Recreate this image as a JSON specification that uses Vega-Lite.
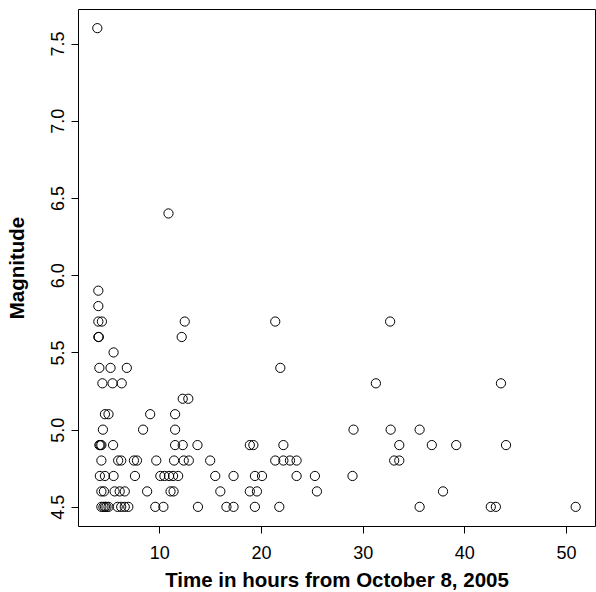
{
  "$schema": "https://vega.github.io/schema/vega-lite/v6.json",
  "width": 517,
  "height": 517,
  "autosize": {"type": "none"},
  "padding": {"left": 78, "top": 9, "right": 1, "bottom": 66},
  "background": "white",
  "config": {
    "view": {"stroke": "black", "strokeWidth": 1},
    "axis": {
      "grid": false,
      "domain": false,
      "tickColor": "black",
      "tickSize": 7,
      "tickWidth": 1,
      "labelColor": "black",
      "labelFont": "Liberation Sans",
      "labelFontSize": 18,
      "titleFont": "Liberation Sans",
      "titleFontSize": 20.5,
      "titleFontWeight": "bold",
      "titleColor": "black"
    }
  },
  "data": {
    "values": [
      {"t": 3.9, "m": 7.6},
      {"t": 10.9, "m": 6.4},
      {"t": 4.0, "m": 5.9},
      {"t": 4.0, "m": 5.8},
      {"t": 4.0, "m": 5.7}, {"t": 4.35, "m": 5.7}, {"t": 12.5, "m": 5.7}, {"t": 21.4, "m": 5.7}, {"t": 32.7, "m": 5.7},
      {"t": 4.0, "m": 5.6}, {"t": 4.05, "m": 5.6}, {"t": 12.2, "m": 5.6},
      {"t": 5.5, "m": 5.5},
      {"t": 4.1, "m": 5.4}, {"t": 5.2, "m": 5.4}, {"t": 6.8, "m": 5.4}, {"t": 21.9, "m": 5.4},
      {"t": 4.4, "m": 5.3}, {"t": 5.4, "m": 5.3}, {"t": 6.3, "m": 5.3}, {"t": 31.3, "m": 5.3}, {"t": 43.6, "m": 5.3},
      {"t": 12.3, "m": 5.2}, {"t": 12.85, "m": 5.2},
      {"t": 4.65, "m": 5.1}, {"t": 5.0, "m": 5.1}, {"t": 9.1, "m": 5.1}, {"t": 11.55, "m": 5.1},
      {"t": 4.45, "m": 5.0}, {"t": 8.4, "m": 5.0}, {"t": 11.55, "m": 5.0}, {"t": 29.1, "m": 5.0}, {"t": 32.75, "m": 5.0}, {"t": 35.6, "m": 5.0},
      {"t": 4.1, "m": 4.9}, {"t": 4.2, "m": 4.9}, {"t": 4.3, "m": 4.9}, {"t": 5.45, "m": 4.9}, {"t": 11.55, "m": 4.9}, {"t": 12.3, "m": 4.9}, {"t": 13.75, "m": 4.9}, {"t": 18.9, "m": 4.9}, {"t": 19.25, "m": 4.9}, {"t": 22.2, "m": 4.9}, {"t": 33.6, "m": 4.9}, {"t": 36.8, "m": 4.9}, {"t": 39.2, "m": 4.9}, {"t": 44.1, "m": 4.9},
      {"t": 4.3, "m": 4.8}, {"t": 5.95, "m": 4.8}, {"t": 6.25, "m": 4.8}, {"t": 7.5, "m": 4.8}, {"t": 7.8, "m": 4.8}, {"t": 9.7, "m": 4.8}, {"t": 11.45, "m": 4.8}, {"t": 12.4, "m": 4.8}, {"t": 12.9, "m": 4.8}, {"t": 15.0, "m": 4.8}, {"t": 21.4, "m": 4.8}, {"t": 22.2, "m": 4.8}, {"t": 22.85, "m": 4.8}, {"t": 23.5, "m": 4.8}, {"t": 33.1, "m": 4.8}, {"t": 33.6, "m": 4.8},
      {"t": 4.15, "m": 4.7}, {"t": 4.65, "m": 4.7}, {"t": 5.5, "m": 4.7}, {"t": 7.6, "m": 4.7}, {"t": 10.1, "m": 4.7}, {"t": 10.5, "m": 4.7}, {"t": 10.95, "m": 4.7}, {"t": 11.35, "m": 4.7}, {"t": 11.85, "m": 4.7}, {"t": 15.5, "m": 4.7}, {"t": 17.3, "m": 4.7}, {"t": 19.4, "m": 4.7}, {"t": 20.1, "m": 4.7}, {"t": 23.5, "m": 4.7}, {"t": 25.3, "m": 4.7}, {"t": 29.0, "m": 4.7},
      {"t": 4.3, "m": 4.6}, {"t": 4.55, "m": 4.6}, {"t": 5.6, "m": 4.6}, {"t": 6.1, "m": 4.6}, {"t": 6.6, "m": 4.6}, {"t": 8.8, "m": 4.6}, {"t": 11.1, "m": 4.6}, {"t": 11.4, "m": 4.6}, {"t": 16.0, "m": 4.6}, {"t": 18.9, "m": 4.6}, {"t": 19.6, "m": 4.6}, {"t": 25.5, "m": 4.6}, {"t": 37.9, "m": 4.6},
      {"t": 4.3, "m": 4.5}, {"t": 4.5, "m": 4.5}, {"t": 4.65, "m": 4.5}, {"t": 4.8, "m": 4.5}, {"t": 5.0, "m": 4.5}, {"t": 5.9, "m": 4.5}, {"t": 6.25, "m": 4.5}, {"t": 6.6, "m": 4.5}, {"t": 6.95, "m": 4.5}, {"t": 9.6, "m": 4.5}, {"t": 10.4, "m": 4.5}, {"t": 13.8, "m": 4.5}, {"t": 16.6, "m": 4.5}, {"t": 17.3, "m": 4.5}, {"t": 19.4, "m": 4.5}, {"t": 21.8, "m": 4.5}, {"t": 35.6, "m": 4.5}, {"t": 42.6, "m": 4.5}, {"t": 43.1, "m": 4.5}, {"t": 50.95, "m": 4.5}
    ]
  },
  "mark": {"type": "point", "shape": "circle", "filled": false, "stroke": "black", "strokeWidth": 1, "size": 85, "opacity": 1},
  "encoding": {
    "x": {
      "field": "t", "type": "quantitative",
      "scale": {"domain": [2.0, 52.85], "nice": false, "zero": false},
      "axis": {"values": [10, 20, 30, 40, 50], "title": "Time in hours from October 8, 2005", "labelPadding": 11, "titlePadding": 8}
    },
    "y": {
      "field": "m", "type": "quantitative",
      "scale": {"domain": [4.376, 7.724], "nice": false, "zero": false},
      "axis": {"values": [4.5, 5.0, 5.5, 6.0, 6.5, 7.0, 7.5], "format": ".1f", "labelAngle": -90, "labelAlign": "center", "labelBaseline": "bottom", "labelPadding": 4, "title": "Magnitude", "titlePadding": 22}
    }
  }
}
